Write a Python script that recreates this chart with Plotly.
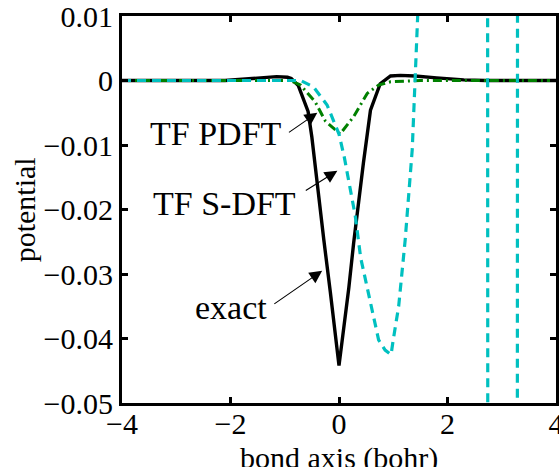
import plotly.graph_objects as go

# Exact embedding potential along the bond axis
x_exact = [-4.0, -3.0, -2.1, -1.6, -1.15, -0.95, -0.88, -0.75, -0.57, -0.5, -0.4,
           -0.28, -0.16, 0.0, 0.18, 0.27, 0.45, 0.58, 0.76, 0.95, 1.13, 1.4,
           1.8, 2.3, 2.7, 3.2, 4.0]
v_exact = [0.0, 0.0, 0.0, 0.0003, 0.0006, 0.0005, 0.0003, -0.0008, -0.0048, -0.0088, -0.0162,
           -0.0247, -0.0328, -0.0442, -0.0322, -0.0252, -0.0128, -0.0046, -0.0005, 0.0007, 0.0008, 0.0007,
           0.0004, 0.0001, 0.0, 0.0, 0.0]

# TF PDFT potential
x_pdft = [-4.0, -2.0, -0.9, -0.71, -0.44, -0.25, 0.02, 0.27, 0.52, 0.73, 0.95, 1.5, 4.0]
v_pdft = [0.0, 0.0, 0.0, -0.0007, -0.0033, -0.0063, -0.0083, -0.0056, -0.002, -0.0007, -0.0002, 0.0, 0.0]

# TF S-DFT potential (diverges beyond the plotted range near its poles)
x_sdft = [-4.0, -2.0, -0.9, -0.71, -0.47, -0.22, 0.0, 0.1, 0.2, 0.3, 0.4, 0.5, 0.6,
          0.73, 0.85, 0.96, 1.0, 1.1, 1.22, 1.35, 1.45, 1.6, 2.0, 2.5, 2.7,
          2.78, 3.0, 3.25, 3.33, 3.6, 4.0]
v_sdft = [0.0, 0.0, 0.0, 0.0, -0.001, -0.0038, -0.0083, -0.012, -0.0165, -0.021, -0.0275, -0.0315, -0.0355,
          -0.0402, -0.0418, -0.0425, -0.0402, -0.035, -0.0247, -0.0107, 0.0099, 0.05, 0.2, 0.5, 1.0,
          -1.0, -0.5, -1.0, 1.0, 0.5, 0.3]

x_ticks = [-4, -2, 0, 2, 4]
x_ticktext = ["\u22124", "\u22122", "0", "2", "4"]
y_ticks = [0.01, 0.0, -0.01, -0.02, -0.03, -0.04, -0.05]
y_ticktext = ["0.01", "0", "\u22120.01", "\u22120.02", "\u22120.03", "\u22120.04", "\u22120.05"]

SERIF = "Liberation Serif"

fig = go.Figure()
fig.add_trace(go.Scatter(x=x_exact, y=v_exact, mode="lines",
                         line=dict(color="black", width=3.4)))
fig.add_trace(go.Scatter(x=x_pdft, y=v_pdft, mode="lines",
                         line=dict(color="#008000", width=3, dash="9px,4px,2px,4px")))
fig.add_trace(go.Scatter(x=x_sdft, y=v_sdft, mode="lines",
                         line=dict(color="#00C0C0", width=3.2, dash="9px,6px")))

# Labels with arrows pointing at the curves
labels = [
    # text, text x, text y, arrow tail x, tail y, head x, head y
    ("TF PDFT", -2.26, -0.0082, -0.95, -0.0082, -0.40, -0.0050),
    ("TF S-DFT", -2.11, -0.0190, -0.64, -0.0172, -0.03, -0.0140),
    ("exact", -2.00, -0.0352, -1.22, -0.0348, -0.31, -0.0295),
]
for txt, tx, ty, ax_, ay_, hx, hy in labels:
    fig.add_annotation(x=tx, y=ty, xref="x", yref="y", text=txt, showarrow=False,
                       font=dict(family=SERIF, size=34, color="black"),
                       xanchor="center", yanchor="middle")
    fig.add_annotation(x=hx, y=hy, xref="x", yref="y", ax=ax_, ay=ay_,
                       axref="x", ayref="y", text="", showarrow=True,
                       arrowhead=2, arrowsize=2.3, arrowwidth=1.1, arrowcolor="black")

# Axis titles
fig.add_annotation(x=0.5, y=-0.143, xref="paper", yref="paper", text="bond axis (bohr)",
                   showarrow=False, font=dict(family=SERIF, size=30, color="black"),
                   xanchor="center", yanchor="middle")
fig.add_annotation(x=-0.224, y=0.5, xref="paper", yref="paper", text="potential",
                   showarrow=False, textangle=-90,
                   font=dict(family=SERIF, size=30, color="black"),
                   xanchor="center", yanchor="middle")

axis_common = dict(showgrid=False, zeroline=False, showline=True, linecolor="black",
                   linewidth=3, mirror="ticks", ticks="inside", ticklen=6, tickwidth=2.5,
                   tickcolor="black", ticklabeloverflow="allow", automargin=False,
                   tickfont=dict(family=SERIF, size=30, color="black"))

fig.update_xaxes(range=[-4, 4], tickvals=x_ticks, ticktext=x_ticktext,
                 ticklabelstandoff=-8, **axis_common)
fig.update_yaxes(range=[-0.05, 0.01], tickvals=y_ticks, ticktext=y_ticktext,
                 ticklabelstandoff=0, **axis_common)

fig.update_layout(width=559, height=467, showlegend=False,
                  margin=dict(l=122, r=3, t=16, b=64, pad=0),
                  plot_bgcolor="white", paper_bgcolor="white")

fig.write_html("out.html")
